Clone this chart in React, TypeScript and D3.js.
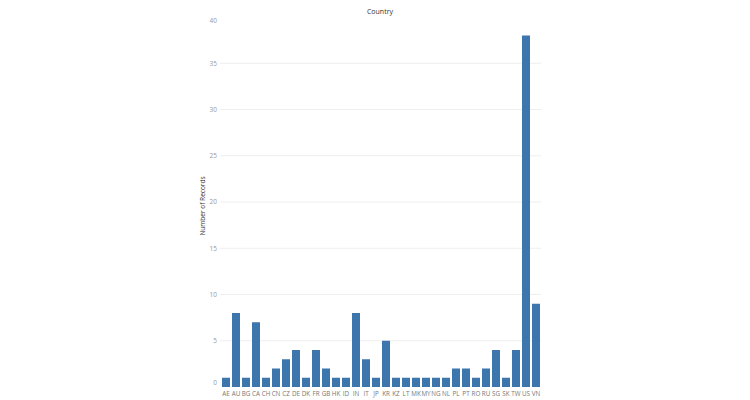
import React from "react";
import * as d3 from "d3";

const countries = ["AE","AU","BG","CA","CH","CN","CZ","DE","DK","FR","GB","HK","ID","IN","IT","JP","KR","KZ","LT","MK","MY","NG","NL","PL","PT","RO","RU","SG","SK","TW","US","VN"];
const records = [1,8,1,7,1,2,3,4,1,4,2,1,1,8,3,1,5,1,1,1,1,1,1,2,2,1,2,4,1,4,38,9];
const yTicks = [0,5,10,15,20,25,30,35,40];

const W = 750, H = 400;
const x0 = 221, x1 = 541;
const yBase = 387, yTop = 17;

export default function App() {
  const x = d3.scaleBand<string>().domain(countries).range([x0, x1]).paddingInner(0.2).paddingOuter(0.1);
  const y = d3.scaleLinear().domain([0, 40]).range([yBase, yTop]);
  const font = "'Open Sans', 'Noto Sans', sans-serif";
  return (
    <svg width={W} height={H} style={{ position: "absolute", left: 0, top: 0, background: "#fff" }}>
      <text x={380} y={14} textAnchor="middle" fontFamily={font} fontSize={7} fill="#333">Country</text>
      <text transform={`translate(205,${206}) rotate(-90)`} textAnchor="middle" fontFamily={font} fontSize={6.5} fill="#333">Number of Records</text>
      {yTicks.map((t) => (
        <g key={t}>
          {t > 0 && t < 40 && (
            <line x1={220} x2={541} y1={y(t)} y2={y(t)} stroke="#eeeeee" strokeWidth={1} />
          )}
          <text x={217} y={t === 0 ? y(t) - 4 : t === 40 ? y(t) + 3.5 : y(t)} dy="0.35em" textAnchor="end" fontFamily={font} fontSize={6.5} fill="#999">{t}</text>
        </g>
      ))}
      {countries.map((c, i) => (
        <rect key={c} x={x(c)} width={x.bandwidth()} y={y(records[i])} height={yBase - y(records[i])} fill="#3c76ad" />
      ))}
      {countries.map((c) => (
        <text key={c} x={(x(c) as number) + x.bandwidth() / 2} y={396} textAnchor="middle" fontFamily={font} fontSize={6.3} fill="#777">{c}</text>
      ))}
    </svg>
  );
}
